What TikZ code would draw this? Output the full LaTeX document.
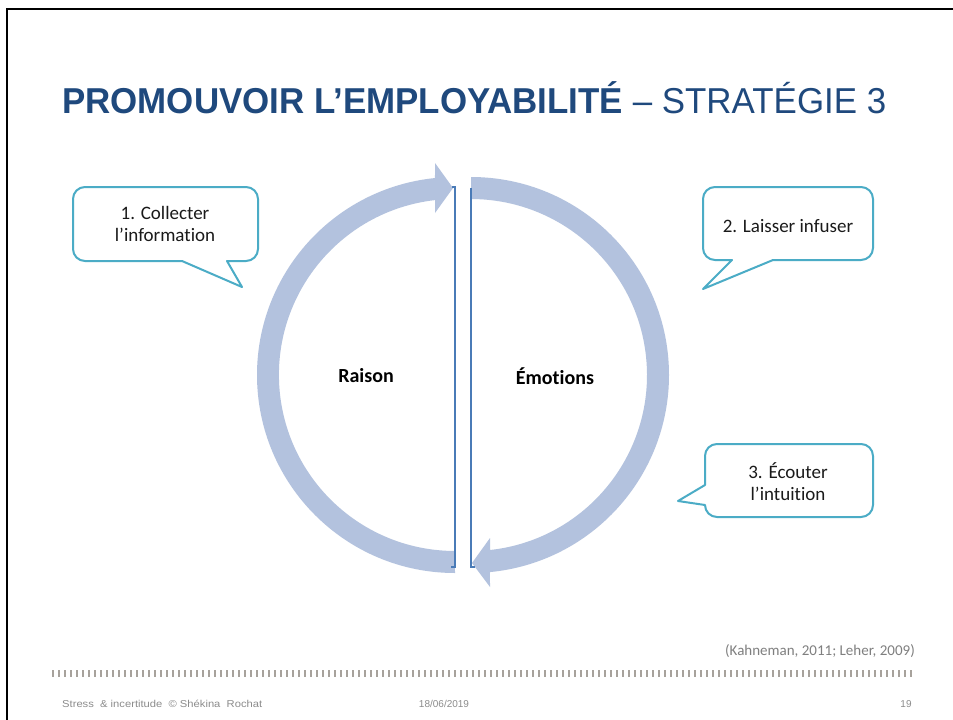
\documentclass[tikz,border=0pt]{standalone}
\usepackage{fontspec}
\usepackage{graphicx}
\setmainfont{Carlito}[Ligatures={NoCommon,NoContextual}]
\newfontfamily\arialfont{Liberation Sans}
\definecolor{titleblue}{HTML}{1F497D}
\definecolor{ringfill}{HTML}{B3C2DE}
\definecolor{splitline}{HTML}{4A7BB7}
\definecolor{callborder}{HTML}{4BACC6}
\definecolor{footgray}{HTML}{8C8C8C}
\definecolor{citegray}{HTML}{7F7F7F}
\definecolor{tickgray}{HTML}{A7A29C}
\definecolor{bodytext}{HTML}{1A1A1A}
\begin{document}
\begin{tikzpicture}[x=1pt,y=-1pt,
  callout/.style={draw=callborder, line width=2pt, fill=white, line join=round},
  calltext/.style={align=center, text=bodytext, inner sep=0pt, font=\fontsize{19}{22}\selectfont},
  halflabel/.style={text=black, inner sep=0pt, font=\bfseries\fontsize{20}{24}\selectfont},
  splitstroke/.style={draw=splitline, line width=2pt},
  tickmark/.style={draw=tickgray, line width=1.3pt},
  foottext/.style={inner sep=0pt, text=footgray, font=\arialfont\fontsize{10}{12}\selectfont}]
\useasboundingbox (0,0) rectangle (953,720);
\fill[white] (0,0) rectangle (953,720);
% slide frame
\draw[line width=2.5pt] (7,725) -- (7,9) -- (958,9);
% title
\node[anchor=base west, inner sep=0pt, text=titleblue] (title) at (62,113)
  {\resizebox{824pt}{\height}{\arialfont\fontsize{36}{40}\selectfont\bfseries PROMOUVOIR L’EMPLOYABILITÉ\mdseries{} – STRATÉGIE 3}};
% left half ring (Raison)
\fill[ringfill] (455,573) arc[start angle=90, end angle=264.2, radius=198]
  -- (435,163) -- (453,188) -- (435,213) -- (435,200.1)
  arc[start angle=263.5, end angle=90, radius=176] -- cycle;
% right half ring (Emotions)
\fill[ringfill] (471,177) arc[start angle=-90, end angle=84.5, radius=198]
  -- (490,587) -- (472,563) -- (490,538) -- (490,550)
  arc[start angle=83.8, end angle=-90, radius=176] -- cycle;
% split lines
\draw[splitstroke] (452,187) -- (455,187) -- (455,567) -- (451,567);
\draw[splitstroke] (471,188) -- (471,567) -- (475,567);
% labels
\node[halflabel] (raison) at (366,376) {Raison};
\node[halflabel] (emotions) at (555,376) {Émotions};
% callout 1
\draw[callout] (85,187) -- (246,187) arc[start angle=270, end angle=360, radius=12]
  -- (258,249) arc[start angle=0, end angle=90, radius=12]
  -- (227,261) -- (242,287) -- (182,261)
  -- (85,261) arc[start angle=90, end angle=180, radius=12]
  -- (73,199) arc[start angle=180, end angle=270, radius=12] -- cycle;
\node[calltext] (c1) at (165,224) {1. Collecter\\l’information};
% callout 2
\draw[callout] (715,187) -- (861,187) arc[start angle=270, end angle=360, radius=12]
  -- (873,248) arc[start angle=0, end angle=90, radius=12]
  -- (773,260) -- (703,289) -- (732,260)
  -- (715,260) arc[start angle=90, end angle=180, radius=12]
  -- (703,199) arc[start angle=180, end angle=270, radius=12] -- cycle;
\node[calltext] (c2) at (788,226) {2. Laisser infuser};
% callout 3
\draw[callout] (717,444) -- (861,444) arc[start angle=270, end angle=360, radius=12]
  -- (873,505) arc[start angle=0, end angle=90, radius=12]
  -- (717,517) arc[start angle=90, end angle=180, radius=12]
  -- (678,501) -- (705,485)
  -- (705,456) arc[start angle=180, end angle=270, radius=12] -- cycle;
\node[calltext] (c3) at (788,482) {3. Écouter\\l’intuition};
% citation
\node[anchor=base east, inner sep=0pt, text=citegray, font=\fontsize{15}{18}\selectfont] (cite) at (915,655) {(Kahneman, 2011; Leher, 2009)};
% footer ticks
\foreach \i in {0,...,143} \draw[tickmark] ({53+6*\i},670) -- ({53+6*\i},677);
% footer texts
\node[foottext, anchor=base west] (foot1) at (62,707) {\resizebox{200pt}{\height}{Stress\ \ \& incertitude\ \ © Shékina\ \ Rochat}};
\node[foottext, anchor=base] (foot2) at (444,707) {18/06/2019};
\node[foottext, anchor=base] (foot3) at (906,707) {19};
\end{tikzpicture}
\end{document}
